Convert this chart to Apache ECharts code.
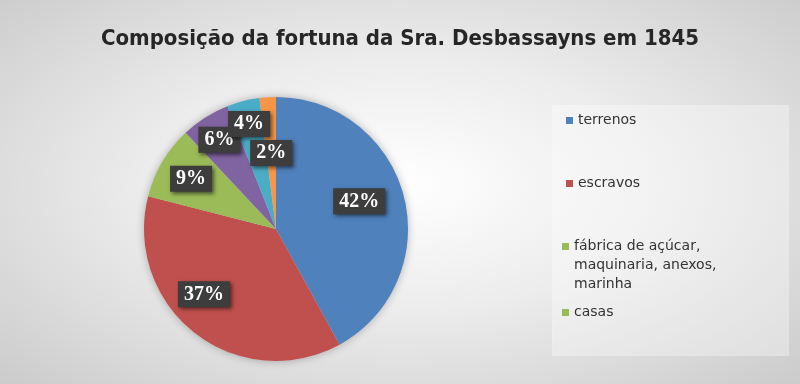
<!DOCTYPE html>
<html>
<head>
<meta charset="utf-8">
<script src="https://cdn.jsdelivr.net/npm/echarts@6/dist/echarts.min.js"></script>
<style>
html,body{margin:0;padding:0;}
body{background:radial-gradient(ellipse farthest-corner at 50% 48%, #ffffff 0%, #ececec 45%, #cbcbcb 100%);}
#chart{width:800px;height:384px;}
</style>
</head>
<body>
<div id="chart"></div>
<script>
const titleText = 'Composição da fortuna da Sra. Desbassayns em 1845';
const categories = ['terrenos', 'escravos', 'fábrica de açúcar, maquinaria, anexos, marinha', 'casas', 'outros bens', 'dinheiro'];
const values = [42, 37, 9, 6, 4, 2];
const colors = ['#4f81bd', '#c0504d', '#9bbb59', '#8064a2', '#4bacc6', '#f79646'];
// label placement tweaks (styling only): radial stretch and small turn in degrees
const labelStretch = [1.27, 1.41, 1.43, 1.53, 1.57, 1.105];
const labelTurn = [-4, 10, 0, 0, 0, 0];

const CX = 276, CY = 229, R = 132;
const chart = echarts.init(document.getElementById('chart'));

const legendText = {
  fontFamily: 'DejaVu Sans', fontSize: 14, color: '#333', lineHeight: 19,
  width: 170, overflow: 'break'
};

chart.setOption({
  backgroundColor: 'transparent',
  color: colors,
  title: {
    text: titleText, left: 'center', top: 23,
    textStyle: { fontFamily: 'DejaVu Sans Condensed', fontWeight: 'bold', fontSize: 22, color: '#262626' }
  },
  graphic: [{
    type: 'rect', left: 552, top: 105, z: -1, silent: true,
    shape: { width: 236, height: 250 },
    style: { fill: 'rgba(255,255,255,0.32)', stroke: 'rgba(255,255,255,0.25)' }
  }],
  legend: [
    {
      orient: 'vertical', left: 566, top: 111, padding: 0, itemGap: 44,
      itemWidth: 7, itemHeight: 7, icon: 'rect', selectedMode: false,
      data: [categories[0], categories[1]], textStyle: legendText
    },
    {
      orient: 'vertical', left: 562, top: 199, padding: 0,
      itemWidth: 7, itemHeight: 7, icon: 'rect', selectedMode: false,
      data: [categories[2]],
      formatter: name => '\n\n' + name,
      textStyle: legendText
    },
    {
      orient: 'vertical', left: 562, top: 303, padding: 0,
      itemWidth: 7, itemHeight: 7, icon: 'rect', selectedMode: false,
      data: [{ name: categories[3], itemStyle: { color: colors[2] } }],
      textStyle: legendText
    }
  ],
  series: [
    {
      type: 'pie', center: [CX, CY], radius: R, silent: true, z: 1,
      label: { show: false }, labelLine: { show: false },
      itemStyle: { color: '#cfcfcf', shadowBlur: 8, shadowColor: 'rgba(0,0,0,0.28)' },
      data: [{ value: 1, name: '_bg' }]
    },
    {
      type: 'pie', center: [CX, CY], radius: R, startAngle: 90, clockwise: true,
      z: 2,
      avoidLabelOverlap: false,
      data: categories.map((c, i) => ({ name: c, value: values[i] })),
      label: {
        show: true, position: 'inside',
        formatter: p => p.value + '%',
        fontFamily: 'Liberation Serif', fontWeight: 'bold', fontSize: 20, lineHeight: 19,
        color: '#fff', backgroundColor: '#3d3d3d', padding: [4, 6, 3, 6],
        shadowColor: 'rgba(0,0,0,0.55)', shadowBlur: 4, shadowOffsetX: 2, shadowOffsetY: 2
      },
      labelLine: { show: false },
      labelLayout: function (params) {
        const r = params.labelRect;
        const bx = r.x + r.width / 2 - CX, by = r.y + r.height / 2 - CY;
        const s = labelStretch[params.dataIndex];
        const a = labelTurn[params.dataIndex] * Math.PI / 180;
        const nx = s * (bx * Math.cos(a) - by * Math.sin(a));
        const ny = s * (bx * Math.sin(a) + by * Math.cos(a));
        return { dx: nx - bx, dy: ny - by };
      },
      emphasis: { disabled: true }
    }
  ]
});
</script>
</body>
</html>
